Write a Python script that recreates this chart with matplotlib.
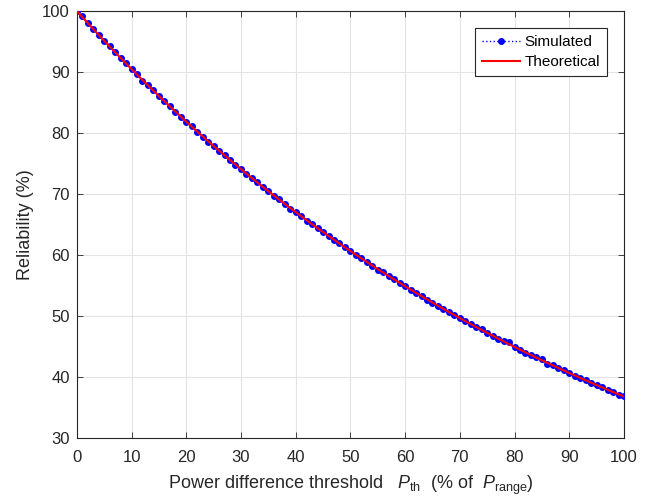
import numpy as np
import matplotlib
matplotlib.use("Agg")
from matplotlib import pyplot as plt

plt.rcParams['font.family'] = ['Liberation Sans', 'DejaVu Sans']
plt.rcParams['mathtext.fontset'] = 'custom'
plt.rcParams['mathtext.rm'] = 'Liberation Sans'
plt.rcParams['mathtext.it'] = 'Liberation Sans:italic'

# threshold in % of P_range
threshold = list(range(0, 101))

# reliability (%) from Monte Carlo runs
simulated = [
    100.0, 99.1, 98.0, 97.1, 96.0, 95.1, 94.2, 93.3, 92.3, 91.4,
    90.5, 89.6, 88.6, 87.8, 87.0, 86.1, 85.2, 84.4, 83.5, 82.6,
    81.8, 81.1, 80.2, 79.4, 78.6, 77.9, 77.1, 76.4, 75.5, 74.8,
    74.1, 73.3, 72.6, 71.9, 71.2, 70.5, 69.7, 69.1, 68.4, 67.6,
    67.0, 66.4, 65.6, 65.1, 64.4, 63.7, 63.1, 62.5, 61.9, 61.3,
    60.6, 60.0, 59.5, 58.9, 58.2, 57.6, 57.2, 56.5, 56.0, 55.4,
    54.9, 54.3, 53.8, 53.3, 52.7, 52.2, 51.7, 51.2, 50.7, 50.1,
    49.7, 49.2, 48.7, 48.2, 47.8, 47.2, 46.8, 46.3, 45.9, 45.8,
    44.9, 44.5, 44.0, 43.6, 43.2, 42.9, 42.2, 41.9, 41.5, 41.1,
    40.7, 40.2, 39.9, 39.5, 39.0, 38.7, 38.3, 37.9, 37.6, 37.0,
    36.9,
]

# reliability (%) from the analytical model
theoretical = [
    100.0, 99.00, 98.02, 97.04, 96.08, 95.12, 94.18, 93.24, 92.31, 91.39,
    90.48, 89.58, 88.69, 87.81, 86.94, 86.07, 85.21, 84.37, 83.53, 82.70,
    81.87, 81.06, 80.25, 79.45, 78.66, 77.88, 77.11, 76.34, 75.58, 74.83,
    74.08, 73.34, 72.61, 71.89, 71.18, 70.47, 69.77, 69.07, 68.39, 67.70,
    67.03, 66.37, 65.70, 65.05, 64.40, 63.76, 63.13, 62.50, 61.88, 61.26,
    60.65, 60.05, 59.45, 58.86, 58.27, 57.69, 57.12, 56.55, 55.99, 55.43,
    54.88, 54.34, 53.79, 53.26, 52.73, 52.20, 51.69, 51.17, 50.66, 50.16,
    49.66, 49.16, 48.68, 48.19, 47.71, 47.24, 46.77, 46.30, 45.84, 45.38,
    44.93, 44.49, 44.04, 43.61, 43.17, 42.74, 42.32, 41.90, 41.48, 41.07,
    40.66, 40.25, 39.85, 39.46, 39.06, 38.67, 38.29, 37.91, 37.53, 37.16,
    36.79,
]

fig = plt.figure(figsize=(6.51, 5.0), dpi=100)
ax = fig.add_axes([0.118, 0.124, 0.8405, 0.854])

ax.plot(threshold, simulated, ':', color='blue', marker='.', markersize=8,
        linewidth=1, label='Simulated', zorder=3)
ax.plot(threshold, theoretical, '-', color='red', linewidth=1.5,
        label='Theoretical', zorder=4)

ax.set_xlim(0, 100)
ax.set_ylim(30, 100)
ax.set_xticks(np.arange(0, 101, 10))
ax.set_yticks(np.arange(30, 101, 10))
ax.grid(True, color='#e3e3e3', linewidth=0.8)
ax.set_axisbelow(True)
ax.tick_params(direction='in', top=True, right=True, labelsize=12,
               colors='#262626', length=4, width=0.6)
ax.tick_params(axis='x', pad=9)
ax.tick_params(axis='y', pad=5)
for s in ax.spines.values():
    s.set_color('#262626')
    s.set_linewidth(0.8)

ax.set_xlabel(r'Power difference threshold   $P_{\mathrm{th}}$  (% of  $P_{\mathrm{range}}$)',
              fontsize=13, color='#262626', labelpad=6)
ax.set_ylabel('Reliability (%)', fontsize=13, color='#262626', labelpad=6)

leg = ax.legend(loc='upper right', bbox_to_anchor=(0.969, 0.96),
                borderaxespad=0, fontsize=11, fancybox=False, framealpha=1,
                edgecolor='#262626', handlelength=2.5, borderpad=0.45,
                labelspacing=0.4, handletextpad=0.3)
leg.get_frame().set_linewidth(0.8)

fig.savefig('out.png', dpi=100)
